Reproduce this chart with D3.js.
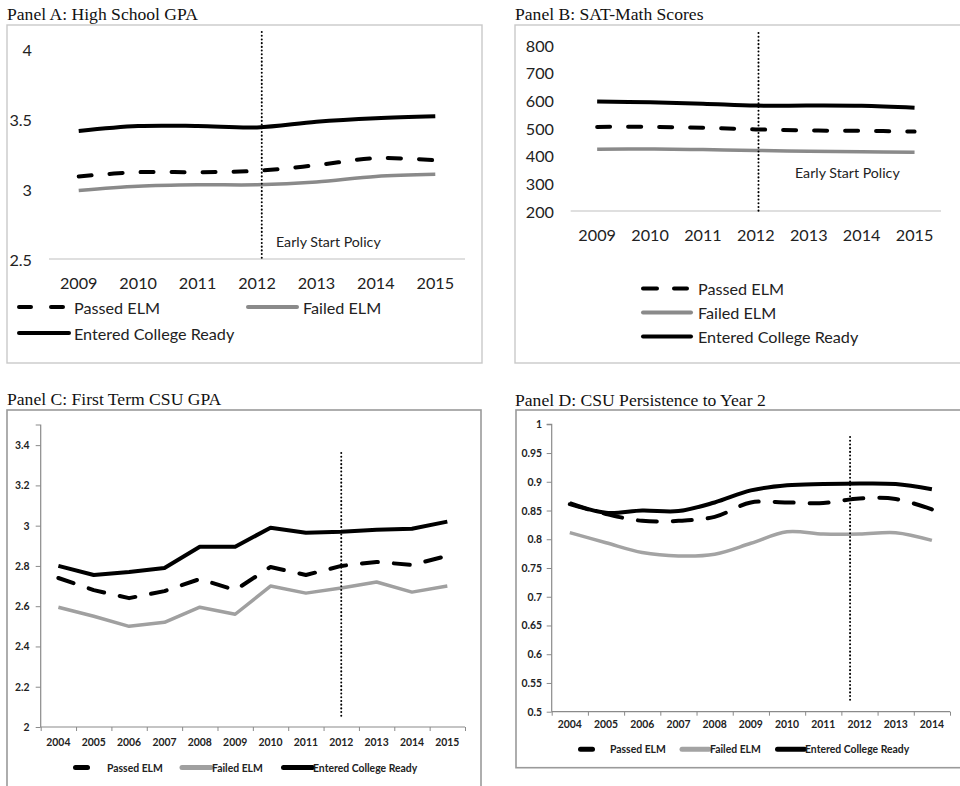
<!DOCTYPE html>
<html>
<head>
<meta charset="utf-8">
<script src="https://cdn.jsdelivr.net/npm/d3@7"></script>
<style>
  html, body { margin: 0; padding: 0; background: #fff; }
  svg { display: block; }
</style>
</head>
<body>
<svg id="fig" width="960" height="786"></svg>
<script>
// ---- data ----
const yearsAB = [2009, 2010, 2011, 2012, 2013, 2014, 2015];
const yearsC = [2004, 2005, 2006, 2007, 2008, 2009, 2010, 2011, 2012, 2013, 2014, 2015];
const yearsD = [2004, 2005, 2006, 2007, 2008, 2009, 2010, 2011, 2012, 2013, 2014];

const seriesNames = ["Passed ELM", "Failed ELM", "Entered College Ready"];

// Panel A: High School GPA
const hsGpaPassed = [3.09, 3.12, 3.12, 3.13, 3.17, 3.22, 3.205];
const hsGpaFailed = [2.99, 3.02, 3.03, 3.03, 3.05, 3.09, 3.105];
const hsGpaReady  = [3.415, 3.45, 3.45, 3.44, 3.48, 3.505, 3.52];

// Panel B: SAT-Math
const satPassed = [504, 504, 501, 495, 491, 490, 487];
const satFailed = [423, 424, 422, 419, 416, 414, 412];
const satReady  = [596, 593, 588, 581, 581, 580, 573];

// Panel C: First term CSU GPA
const csuGpaPassed = [2.74, 2.68, 2.64, 2.675, 2.735, 2.68, 2.795, 2.755, 2.80, 2.82, 2.805, 2.85];
const csuGpaFailed = [2.595, 2.55, 2.50, 2.52, 2.595, 2.56, 2.70, 2.665, 2.69, 2.72, 2.67, 2.70];
const csuGpaReady  = [2.80, 2.755, 2.77, 2.79, 2.895, 2.895, 2.99, 2.965, 2.97, 2.98, 2.985, 3.02];

// Panel D: persistence to year 2
const persistPassed = [0.861, 0.844, 0.832, 0.832, 0.839, 0.864, 0.864, 0.863, 0.871, 0.870, 0.852];
const persistFailed = [0.8115, 0.794, 0.777, 0.771, 0.774, 0.793, 0.813, 0.809, 0.809, 0.8115, 0.798];
const persistReady  = [0.863, 0.846, 0.850, 0.849, 0.864, 0.885, 0.894, 0.896, 0.897, 0.896, 0.887];

// y-axis ticks
const ticksA = [2.5, 3, 3.5, 4];
const ticksB = [200, 300, 400, 500, 600, 700, 800];
const ticksC = [2, 2.2, 2.4, 2.6, 2.8, 3, 3.2, 3.4];
const ticksD = [0.5, 0.55, 0.6, 0.65, 0.7, 0.75, 0.8, 0.85, 0.9, 0.95, 1];

// position of the Early Start policy marker (in year units)
const policyA = 2012.08, policyB = 2012.05, policyC = 2012, policyD = 2011.74;

const svg = d3.select("#fig");
const SERIF = "'Liberation Serif', 'Times New Roman', serif";
const SANS = "Lato, 'Open Sans', sans-serif";

function drawPanel(cfg) {
  const g = svg.append("g");

  // panel frame and title
  g.append("rect")
    .attr("x", cfg.box[0]).attr("y", cfg.box[1])
    .attr("width", cfg.box[2]).attr("height", cfg.box[3])
    .attr("fill", "#fff").attr("stroke", cfg.boxColor).attr("stroke-width", cfg.boxWidth);
  g.append("text")
    .attr("x", cfg.titlePos[0]).attr("y", cfg.titlePos[1])
    .attr("font-family", SERIF).attr("font-size", 17.6).attr("fill", "#111")
    .text(cfg.title);

  const years = cfg.years;
  const x = d3.scaleLinear()
    .domain([years[0] - 0.5, years[years.length - 1] + 0.5])
    .range([cfg.x0, cfg.x1]);
  const y = d3.scaleLinear().domain(cfg.yDomain).range([cfg.yBottom, cfg.yTop]);

  // y tick labels
  g.append("g").selectAll("text").data(cfg.yTicks).join("text")
    .attr("x", cfg.yLabelX).attr("y", d => y(d))
    .attr("text-anchor", "end").attr("dominant-baseline", "central")
    .attr("font-family", SANS).attr("font-size", cfg.tickFont)
    .attr("font-weight", cfg.tickWeight).attr("fill", "#222")
    .text(d => cfg.fmt(d));

  // x category labels
  g.append("g").selectAll("text").data(years).join("text")
    .attr("x", d => x(d)).attr("y", cfg.xLabelY)
    .attr("text-anchor", "middle").attr("dominant-baseline", "central")
    .attr("font-family", SANS).attr("font-size", cfg.tickFont)
    .attr("font-weight", cfg.tickWeight).attr("fill", "#222")
    .text(d => d);

  if (cfg.framed) {
    // axis lines with tick marks (Panels C, D)
    const yAxis = d3.axisLeft(y).tickValues(cfg.yTicks).tickSize(5).tickFormat("");
    g.append("g").attr("transform", `translate(${cfg.x0},0)`).call(yAxis)
      .call(a => {
        a.select(".domain").attr("stroke", "#8a8a8a").attr("stroke-width", 1.2)
          .attr("d", `M-5,${y(cfg.yDomain[1])}H0V${cfg.yBottom}`);
        a.selectAll(".tick line").attr("stroke", "#8a8a8a");
      });
    const bounds = d3.range(years.length + 1).map(i => years[0] - 0.5 + i);
    const xAxis = d3.axisBottom(x).tickValues(bounds).tickSize(4).tickFormat("");
    g.append("g").attr("transform", `translate(0,${cfg.yBottom})`).call(xAxis)
      .call(a => {
        a.select(".domain").attr("stroke", "#8a8a8a").attr("stroke-width", 1.2)
          .attr("d", `M${cfg.x0},0H${cfg.x1}`);
        a.selectAll(".tick line").attr("stroke", "#8a8a8a");
      });
  } else {
    // plain horizontal baseline (Panels A, B)
    g.append("line")
      .attr("x1", cfg.x0).attr("x2", cfg.x1)
      .attr("y1", cfg.yBottom).attr("y2", cfg.yBottom)
      .attr("stroke", "#d4d4d4").attr("stroke-width", 1.5);
  }

  // series lines
  const styles = [
    { color: "#000", width: 4, dash: cfg.dash },
    { color: cfg.grey, width: 3.5, dash: null },
    { color: "#000", width: 4, dash: null }
  ];
  const line = d3.line()
    .x((d, i) => x(years[i]))
    .y(d => y(d))
    .curve(cfg.curve);
  cfg.series.forEach((vals, k) => {
    const s = styles[k];
    g.append("path")
      .attr("d", line(vals))
      .attr("fill", "none").attr("stroke", s.color).attr("stroke-width", s.width)
      .attr("stroke-linecap", s.dash ? "round" : "butt")
      .attr("stroke-linejoin", "round")
      .attr("stroke-dasharray", s.dash);
  });

  // Early Start policy marker
  g.append("line")
    .attr("x1", x(cfg.policy)).attr("x2", x(cfg.policy))
    .attr("y1", cfg.policyY[0]).attr("y2", cfg.policyY[1])
    .attr("stroke", "#000").attr("stroke-width", 2)
    .attr("stroke-linecap", "round")
    .attr("stroke-dasharray", "0.1,3.6");
  if (cfg.policyLabel) {
    g.append("text")
      .attr("x", cfg.policyLabel[0]).attr("y", cfg.policyLabel[1])
      .attr("dominant-baseline", "central")
      .attr("font-family", SANS).attr("font-size", 14.2).attr("fill", "#222")
      .text("Early Start Policy");
  }

  // legend
  cfg.legend.forEach((item, k) => {
    const s = styles[k];
    const lg = g.append("g");
    lg.append("line")
      .attr("x1", item.line[0]).attr("x2", item.line[1])
      .attr("y1", item.y).attr("y2", item.y)
      .attr("stroke", s.color).attr("stroke-width", cfg.legendWidth)
      .attr("stroke-linecap", "round")
      .attr("stroke-dasharray", k === 0 ? item.dash : null);
    lg.append("text")
      .attr("x", item.tx).attr("y", item.y)
      .attr("dominant-baseline", "central")
      .attr("font-family", SANS).attr("font-size", cfg.legendFont)
      .attr("font-weight", cfg.tickWeight).attr("fill", "#222")
      .text(seriesNames[k]);
  });
}

drawPanel({
  title: "Panel A: High School GPA", titlePos: [7, 20],
  box: [7, 25, 475, 338], boxColor: "#c9c9c9", boxWidth: 1.4,
  years: yearsAB, x0: 49, x1: 465,
  yDomain: [2.5, 4], yTop: 49, yBottom: 259, yTicks: ticksA,
  fmt: d3.format(""), yLabelX: 32, xLabelY: 282,
  tickFont: 16.2, tickWeight: "normal", framed: false,
  dash: "13,18", grey: "#8a8a8a", curve: d3.curveCatmullRom,
  series: [hsGpaPassed, hsGpaFailed, hsGpaReady],
  policy: policyA, policyY: [32, 260], policyLabel: [276, 241],
  legendWidth: 4, legendFont: 16.2,
  legend: [
    { line: [19, 63], y: 307, tx: 74, dash: "12,20" },
    { line: [248, 297], y: 307, tx: 303 },
    { line: [19, 69], y: 333, tx: 74 }
  ]
});

drawPanel({
  title: "Panel B: SAT-Math Scores", titlePos: [515, 20],
  box: [515, 25, 460, 338], boxColor: "#c9c9c9", boxWidth: 1.4,
  years: yearsAB, x0: 570.7, x1: 941,
  yDomain: [200, 800], yTop: 45, yBottom: 211, yTicks: ticksB,
  fmt: d3.format(""), yLabelX: 554, xLabelY: 234,
  tickFont: 16.2, tickWeight: "normal", framed: false,
  dash: "13,18", grey: "#8a8a8a", curve: d3.curveCatmullRom,
  series: [satPassed, satFailed, satReady],
  policy: policyB, policyY: [33, 212], policyLabel: [795, 172.5],
  legendWidth: 4, legendFont: 16.2,
  legend: [
    { line: [643, 687], y: 288.5, tx: 698, dash: "14,17" },
    { line: [643, 691], y: 312.5, tx: 698 },
    { line: [643, 691], y: 336.5, tx: 698 }
  ]
});

drawPanel({
  title: "Panel C: First Term CSU GPA", titlePos: [7, 405],
  box: [7, 410, 474, 400], boxColor: "#9a9a9a", boxWidth: 1.6,
  years: yearsC, x0: 40.7, x1: 465,
  yDomain: [2, 3.5], yTop: 425, yBottom: 727, yTicks: ticksC,
  fmt: d3.format(""), yLabelX: 29.5, xLabelY: 741.5,
  tickFont: 10.4, tickWeight: "bold", framed: true,
  dash: "16,16", grey: "#a0a0a0", curve: d3.curveLinear,
  series: [csuGpaPassed, csuGpaFailed, csuGpaReady],
  policy: policyC, policyY: [453, 717], policyLabel: null,
  legendWidth: 5, legendFont: 10.4,
  legend: [
    { line: [75.5, 87.5], y: 767.5, tx: 107, dash: null },
    { line: [182, 211], y: 767.5, tx: 212 },
    { line: [283.5, 312.5], y: 767.5, tx: 313 }
  ]
});

drawPanel({
  title: "Panel D: CSU Persistence to Year 2", titlePos: [515, 405.5],
  box: [516, 410, 460, 357.7], boxColor: "#9a9a9a", boxWidth: 1.6,
  years: yearsD, x0: 551.7, x1: 950,
  yDomain: [0.5, 1], yTop: 424.3, yBottom: 711.7, yTicks: ticksD,
  fmt: d3.format(""), yLabelX: 542, xLabelY: 724.3,
  tickFont: 10.4, tickWeight: "bold", framed: true,
  dash: "19,16", grey: "#a3a3a3", curve: d3.curveCatmullRom,
  series: [persistPassed, persistFailed, persistReady],
  policy: policyD, policyY: [437, 703], policyLabel: null,
  legendWidth: 5, legendFont: 10.4,
  legend: [
    { line: [580.5, 592.5], y: 749.3, tx: 610, dash: null },
    { line: [682, 709], y: 749.3, tx: 710 },
    { line: [777.5, 804.5], y: 749.3, tx: 805 }
  ]
});
</script>
</body>
</html>
